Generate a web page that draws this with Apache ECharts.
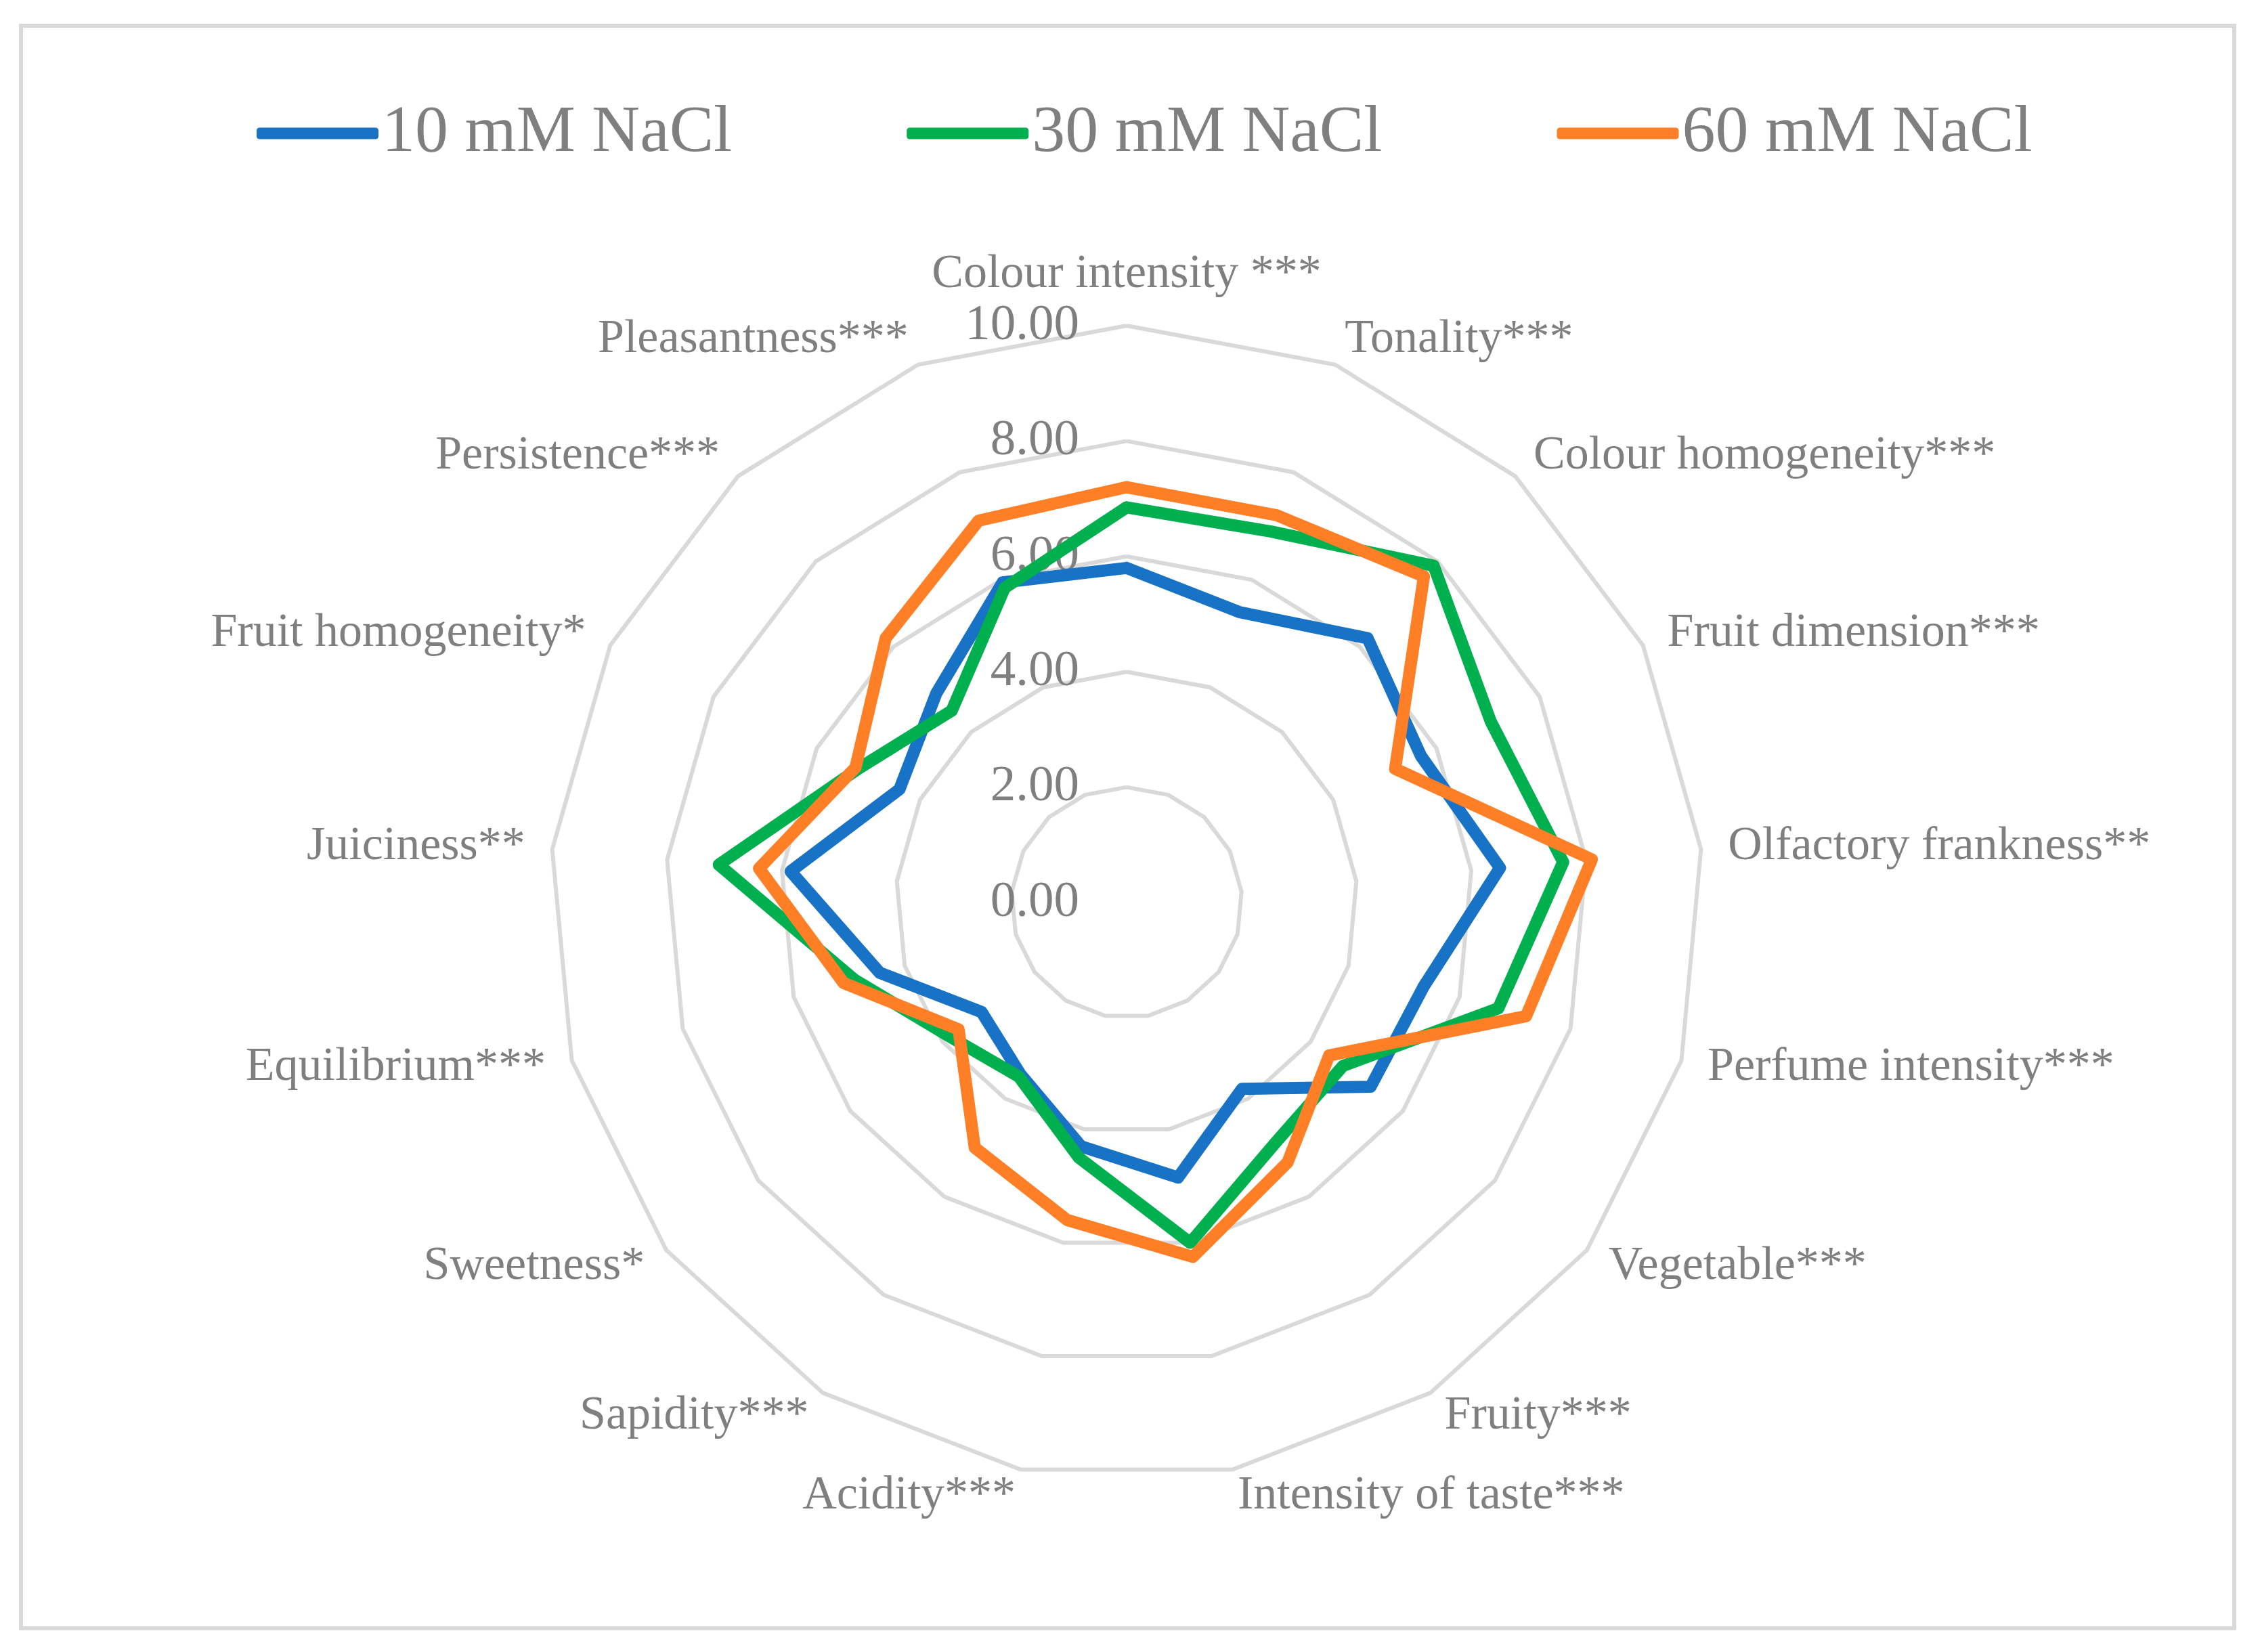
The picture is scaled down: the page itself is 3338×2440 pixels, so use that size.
<!DOCTYPE html>
<html>
<head>
<meta charset="utf-8">
<script src="https://cdn.jsdelivr.net/npm/echarts@6/dist/echarts.min.js"></script>
<style>
html,body{margin:0;padding:0;background:#fff;}
#chart{width:3338px;height:2440px;}
</style>
</head>
<body>
<div id="chart"></div>
<script>
const categories = [
  "Colour intensity ***", "Tonality***", "Colour homogeneity***", "Fruit dimension***",
  "Olfactory frankness**", "Perfume intensity***", "Vegetable***", "Fruity***",
  "Intensity of taste***", "Acidity***", "Sapidity***", "Sweetness*",
  "Equilibrium***", "Juiciness**", "Fruit homogeneity*", "Persistence***", "Pleasantness***"
];
const seriesNames = ["10 mM NaCl", "30 mM NaCl", "60 mM NaCl"];
const nacl10 = [5.8, 5.4, 6.2, 5.7, 6.5, 5.35, 5.3, 3.8, 4.85, 4.3, 3.5, 3.15, 4.45, 5.85, 4.4, 4.9, 5.95];
const nacl30 = [6.85, 6.9, 7.9, 7.05, 7.6, 6.7, 4.7, 4.9, 6.0, 4.5, 3.55, 3.85, 4.9, 7.1, 5.2, 4.5, 5.85];
const nacl60 = [7.2, 7.2, 7.65, 5.2, 8.1, 7.2, 4.4, 5.3, 6.25, 5.6, 5.0, 3.65, 5.1, 6.4, 5.25, 6.2, 7.1];
const axisMin = 0, axisMax = 10, axisSplits = 5;

const colors = ["#1872C6", "#00B04F", "#FF7F27"];
const gray = "#7f7f7f";
const fontFam = "'Liberation Serif', 'DejaVu Serif', serif";

// ECharts radar runs counter-clockwise; reorder so categories go clockwise like the original
const order = [0].concat(categories.slice(1).map((_, i) => categories.length - 1 - i));
const reorder = arr => order.map(i => arr[i]);

const indicators = order.map((ci, i) => {
  const o = { name: categories[ci], min: axisMin, max: axisMax };
  if (i === 0) {
    o.axisLabel = {
      show: true, color: gray, fontSize: 75, fontFamily: fontFam,
      margin: 70, formatter: v => Number(v).toFixed(2)
    };
  }
  return o;
});

const lineW = 18;
const chart = echarts.init(document.getElementById('chart'), null, { renderer: 'canvas' });
chart.setOption({
  animation: false,
  backgroundColor: '#fff',
  color: colors,
  graphic: [{
    type: 'rect', shape: { x: 31, y: 38, width: 3269, height: 2367 },
    style: { fill: 'none', stroke: '#d9d9d9', lineWidth: 6 }, silent: true, z: -1
  }],
  legend: {
    data: seriesNames,
    left: 374, top: 142,
    itemWidth: 180, itemHeight: 17, itemGap: 258,
    icon: 'roundRect',
    selectedMode: false,
    textStyle: { color: gray, fontSize: 98, fontFamily: fontFam, lineHeight: 100, padding: [0, 0, 0, 0] }
  },
  radar: {
    center: [1664, 1333],
    radius: 852,
    startAngle: 90,
    shape: 'polygon',
    splitNumber: axisSplits,
    indicator: indicators,
    axisName: { color: gray, fontSize: 70, fontFamily: fontFam },
    nameGap: 40,
    axisLine: { show: false },
    axisTick: { show: false },
    axisLabel: { show: false },
    splitLine: { lineStyle: { color: '#d9d9d9', width: 6 } },
    splitArea: { show: false }
  },
  series: [{
    type: 'radar',
    symbol: 'none',
    data: [
      { name: seriesNames[0], value: reorder(nacl10), lineStyle: { color: colors[0], width: lineW, join: 'round', cap: 'round' }, itemStyle: { color: colors[0] } },
      { name: seriesNames[1], value: reorder(nacl30), lineStyle: { color: colors[1], width: lineW, join: 'round', cap: 'round' }, itemStyle: { color: colors[1] } },
      { name: seriesNames[2], value: reorder(nacl60), lineStyle: { color: colors[2], width: lineW, join: 'round', cap: 'round' }, itemStyle: { color: colors[2] } }
    ]
  }]
});
</script>
</body>
</html>
